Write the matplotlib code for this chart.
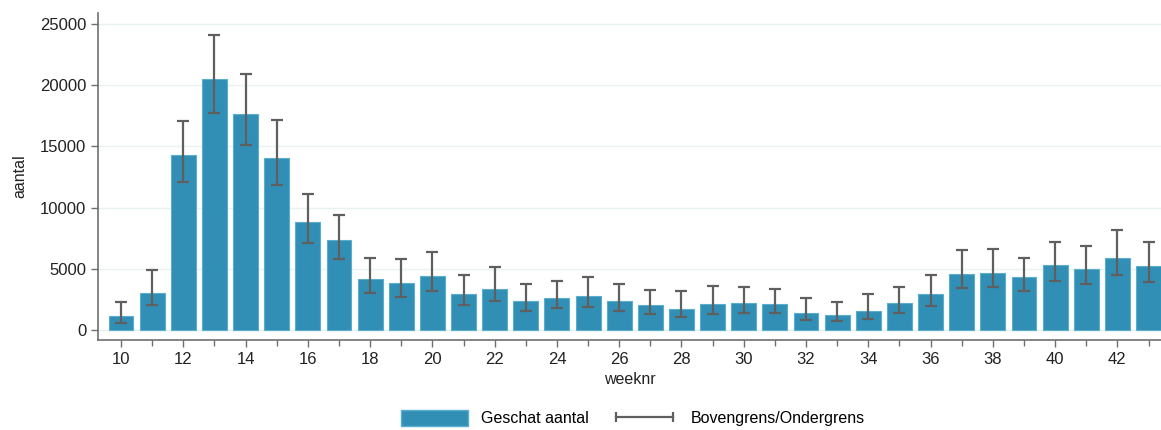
import numpy as np
import matplotlib.pyplot as plt
from matplotlib.patches import Patch
from matplotlib.lines import Line2D

plt.rcParams['font.family'] = ['Liberation Sans', 'DejaVu Sans']

# ==== data: estimated count per week with upper / lower bound ====
weeks = list(range(10, 44))
geschat = [1140, 3050, 14270, 20500, 17670, 14080, 8800, 7330, 4170, 3840,
           4440, 2970, 3400, 2400, 2670, 2780, 2420, 2040, 1770, 2120,
           2230, 2120, 1410, 1280, 1580, 2200, 2940, 4630, 4710, 4330,
           5310, 5040, 5940, 5260]
bovengrens = [2290, 4960, 17080, 24100, 20940, 17180, 11100, 9400, 5880, 5800,
              6370, 4550, 5150, 3760, 4030, 4360, 3810, 3320, 3240, 3600,
              3540, 3400, 2610, 2320, 3000, 3540, 4490, 6560, 6620, 5940,
              7190, 6890, 8200, 7190]
ondergrens = [600, 2070, 12070, 17730, 15140, 11820, 7130, 5800, 3050, 2750,
              3240, 2070, 2400, 1610, 1830, 1910, 1580, 1310, 1090, 1310,
              1440, 1380, 840, 760, 930, 1410, 1990, 3430, 3510, 3210,
              4060, 3780, 4520, 3950]

w = np.array(weeks)
g = np.array(geschat)
err = [g - np.array(ondergrens), np.array(bovengrens) - g]

fig = plt.figure(figsize=(11.61, 4.30), dpi=100)
ax = fig.add_axes([0.0844, 0.209, 0.9156, 0.761])

ax.bar(w, g, width=0.8, color='#318fb5', edgecolor='#5aaecb', linewidth=0.8, zorder=2)
ax.errorbar(w, g, yerr=err, fmt='none', ecolor='#5f5f5f', elinewidth=1.6,
            capsize=4, capthick=1.6, zorder=3)

ax.set_xlim(9.26, 43.4)
ax.set_ylim(-800, 25900)
ax.set_yticks([0, 5000, 10000, 15000, 20000, 25000])
ax.set_xticks(range(10, 44, 2))
ax.set_xticks(range(11, 44, 2), minor=True)
ax.yaxis.grid(True, color='#eaf2f3', linewidth=1, zorder=0)
ax.set_axisbelow(True)

for s in ['top', 'right']:
    ax.spines[s].set_visible(False)
for s in ['left', 'bottom']:
    ax.spines[s].set_color('#707070')
    ax.spines[s].set_linewidth(1.2)
ax.tick_params(axis='both', which='both', colors='#707070', labelcolor='#222222',
               labelsize=12, length=5, width=1)
ax.tick_params(axis='x', which='minor', length=4)

ax.set_xlabel('weeknr', fontsize=11.5, color='#222222', labelpad=4)
ax.set_ylabel('aantal', fontsize=11.5, color='#222222', labelpad=9)

handles = [Patch(facecolor='#318fb5', edgecolor='#5aaecb'),
           Line2D([0], [0], color='#5f5f5f', lw=1.6, marker='|', markersize=7,
                  markeredgewidth=1.6)]
leg = fig.legend(handles, ['Geschat aantal', 'Bovengrens/Ondergrens'], loc='lower center',
                 bbox_to_anchor=(0.545, -0.025), ncol=2, frameon=False, fontsize=11.5,
                 handlelength=4.2, handleheight=1.2, columnspacing=1.4, numpoints=2)

fig.savefig('out.png', dpi=100)
